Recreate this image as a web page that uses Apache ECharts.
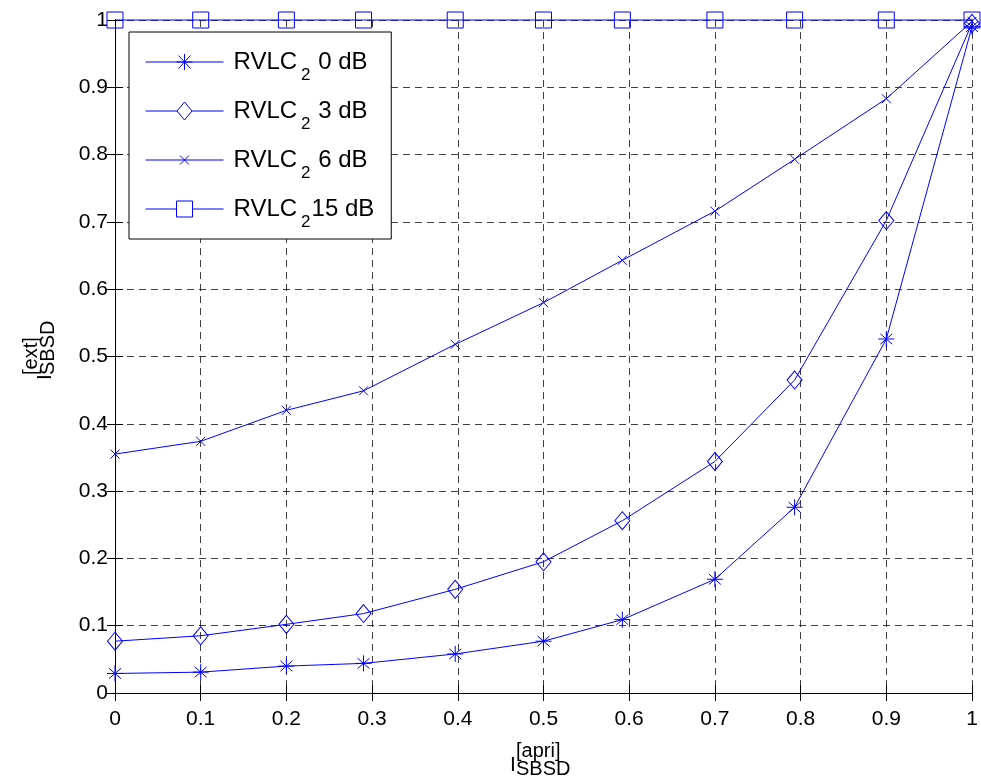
<!DOCTYPE html>
<html>
<head>
<meta charset="utf-8">
<script src="https://cdn.jsdelivr.net/npm/echarts@6/dist/echarts.min.js"></script>
<style>html,body{margin:0;padding:0;background:#fff}#c{width:981px;height:783px}</style>
</head>
<body>
<div id="c"></div>
<script>
// x positions of the measurement points (I_SBSD^[apri])
var xVals = [0, 0.1, 0.2, 0.29, 0.397, 0.5, 0.592, 0.7, 0.793, 0.9, 1];
// I_SBSD^[ext] for each SNR
var rvlc0dB  = [0.029, 0.031, 0.040, 0.044, 0.058, 0.077, 0.109, 0.169, 0.276, 0.526, 0.990];
var rvlc3dB  = [0.077, 0.085, 0.102, 0.118, 0.154, 0.195, 0.256, 0.344, 0.465, 0.702, 0.995];
var rvlc6dB  = [0.355, 0.374, 0.420, 0.449, 0.518, 0.580, 0.643, 0.716, 0.793, 0.883, 0.998];
var rvlc15dB = [1, 1, 1, 1, 1, 1, 1, 1, 1, 1, 1];
var seriesNames = ['0 dB', '3 dB', '6 dB', '15 dB'];
var xTicks = [0, 0.1, 0.2, 0.3, 0.4, 0.5, 0.6, 0.7, 0.8, 0.9, 1];
var yTicks = [0, 0.1, 0.2, 0.3, 0.4, 0.5, 0.6, 0.7, 0.8, 0.9, 1];

var BLUE = '#0000ff';
var FONT = 'Liberation Sans, Arial, Helvetica, sans-serif';

function pairs(ys) { return xVals.map(function (x, i) { return [x, ys[i]]; }); }

var symbols = [
  { sym: 'path://M0,-10L0,10M-10,0L10,0M-7.5,-6.5L7.5,6.5M-7.5,6.5L7.5,-6.5', size: [16, 16],
    icon: 'path://M0,0L78,0M39,-8L39,8M31,0L47,0M33,-6.5L45,6.5M33,6.5L45,-6.5' },
  { sym: 'path://M0,-10L8,0L0,10L-8,0Z', size: [15, 18],
    icon: 'path://M0,0L31.5,0M46.5,0L78,0M39,-9L46.5,0L39,9L31.5,0Z' },
  { sym: 'path://M-1,-1L1,1M-1,1L1,-1', size: [9, 9],
    icon: 'path://M0,0L78,0M34.5,-4.5L43.5,4.5M34.5,4.5L43.5,-4.5' },
  { sym: 'path://M-1,-1L1,-1L1,1L-1,1Z', size: [16, 16],
    icon: 'path://M0,0L31,0M47,0L78,0M31,-8L47,-8L47,8L31,8Z' }
];
var dataSets = [rvlc0dB, rvlc3dB, rvlc6dB, rvlc15dB];

var series = dataSets.map(function (ys, i) {
  return {
    name: 'RVLC2 ' + seriesNames[i],
    type: 'line',
    data: pairs(ys),
    clip: false,
    symbol: symbols[i].sym,
    symbolSize: symbols[i].size,
    showAllSymbol: true,
    lineStyle: { color: BLUE, width: 1 },
    itemStyle: { color: 'rgba(0,0,0,0)', borderColor: BLUE, borderWidth: 1 },
    emphasis: { disabled: true },
    animation: false,
    z: 3 + i
  };
});

function fmt(v) { return String(+v.toFixed(1)); }

var axisCommon = {
  type: 'value', min: 0, max: 1, interval: 0.1,
  axisLine: { show: true, lineStyle: { color: '#000', width: 1 } },
  axisTick: { show: true, inside: true, length: 8, lineStyle: { color: '#000', width: 1 } },
  splitLine: { show: false }
};

var legendData = series.map(function (s, i) {
  return { name: s.name, icon: symbols[i].icon,
           itemStyle: { color: 'rgba(0,0,0,0)', borderColor: BLUE, borderWidth: 1 } };
});

var option = {
  backgroundColor: '#fff',
  animation: false,
  textStyle: { fontFamily: FONT },
  grid: { left: 115, top: 20, width: 857, height: 673, containLabel: false },
  xAxis: [
    Object.assign({}, axisCommon, {
      position: 'bottom',
      axisLabel: { show: true, color: '#000', fontSize: 21, fontFamily: FONT, margin: 16, formatter: fmt },
      splitLine: { show: true, lineStyle: { color: '#000', type: [7, 5], width: 1, opacity: 0.75 } }
    }),
    Object.assign({}, axisCommon, { position: 'top', axisLabel: { show: false } })
  ],
  yAxis: [
    Object.assign({}, axisCommon, {
      position: 'left',
      axisLabel: { show: true, color: '#000', fontSize: 21, fontFamily: FONT, margin: 7, formatter: fmt },
      splitLine: { show: true, lineStyle: { color: '#000', type: [7, 5], width: 1, opacity: 0.75 } }
    }),
    Object.assign({}, axisCommon, { position: 'right', axisLabel: { show: false } })
  ],
  legend: {
    left: 129, top: 32,
    orient: 'vertical',
    backgroundColor: '#fff',
    borderColor: '#000', borderWidth: 1,
    padding: [8, 17, 8, 16],
    itemWidth: 78, itemHeight: 18, itemGap: 5,
    selectedMode: false,
    data: legendData,
    formatter: function (name) {
      var rest = name.replace('RVLC2', '');
      if (rest.indexOf(' 15') === 0) rest = rest.slice(1);
      return '{r|RVLC}{s|2}{t|' + rest + '}';
    },
    textStyle: {
      color: '#000', fontFamily: FONT, lineHeight: 44,
      rich: {
        r: { fontSize: 24, fontFamily: FONT, color: '#000', lineHeight: 44, verticalAlign: 'middle', padding: [0, 0, 0, 5] },
        s: { fontSize: 17, fontFamily: FONT, color: '#000', lineHeight: 17, verticalAlign: 'middle', padding: [27, 1, 0, 4] },
        t: { fontSize: 24, fontFamily: FONT, color: '#000', lineHeight: 44, verticalAlign: 'middle' }
      }
    }
  },
  graphic: [
    // x axis title: I^[apri]_SBSD
    { type: 'text', x: 510, y: 765, style: { text: 'I', fontSize: 21, fontFamily: FONT, fill: '#000', align: 'left', verticalAlign: 'middle' } },
    { type: 'text', x: 516, y: 751, style: { text: '[apri]', fontSize: 20, fontFamily: FONT, fill: '#000', align: 'left', verticalAlign: 'middle' } },
    { type: 'text', x: 516, y: 769, style: { text: 'SBSD', fontSize: 20, fontFamily: FONT, fill: '#000', align: 'left', verticalAlign: 'middle' } },
    // y axis title: I^[ext]_SBSD (rotated)
    { type: 'text', x: 45, y: 380, rotation: Math.PI / 2, style: { text: 'I', fontSize: 21, fontFamily: FONT, fill: '#000', align: 'left', verticalAlign: 'middle' } },
    { type: 'text', x: 31, y: 375, rotation: Math.PI / 2, style: { text: '[ext]', fontSize: 20, fontFamily: FONT, fill: '#000', align: 'left', verticalAlign: 'middle' } },
    { type: 'text', x: 48, y: 375, rotation: Math.PI / 2, style: { text: 'SBSD', fontSize: 20, fontFamily: FONT, fill: '#000', align: 'left', verticalAlign: 'middle' } }
  ],
  series: series
};

var chart = echarts.init(document.getElementById('c'), null, { renderer: 'canvas' });
chart.setOption(option);
</script>
</body>
</html>
